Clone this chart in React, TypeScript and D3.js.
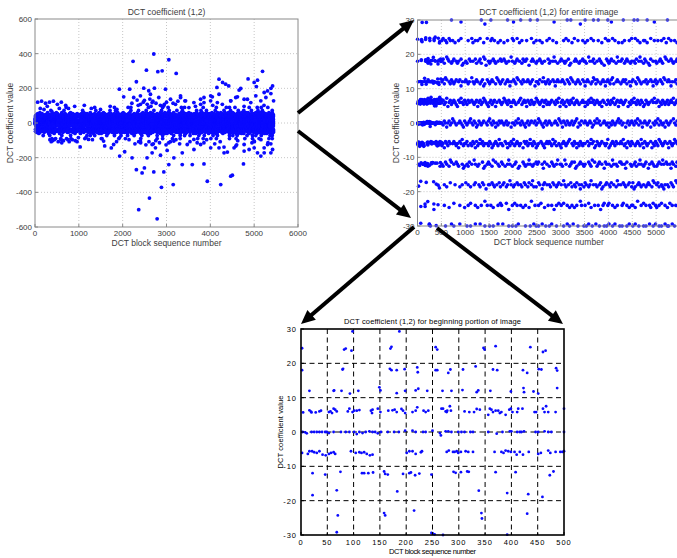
import React, { useEffect, useRef } from 'react';
import * as d3 from 'd3';

// tick values
const fullXTicks = [0, 1000, 2000, 3000, 4000, 5000, 6000];
const fullYTicks = [-600, -400, -200, 0, 200, 400, 600];
const wholeXTicks = [0, 500, 1000, 1500, 2000, 2500, 3000, 3500, 4000, 4500, 5000];
const wholeYTicks = [-30, -20, -10, 0, 10, 20, 30];
const startXTicks = [0, 50, 100, 150, 200, 250, 300, 350, 400, 450, 500];
const startYTicks = [-30, -20, -10, 0, 10, 20, 30];

// first 500 blocks: [block, value]
const startBlocks: [number, number][] = [
  [2, 24.4], [98, 29.3], [82, 24], [85, 24.3], [96, 23.7], [170, 24.3], [172, 24.8], [187, 29.3],
  [2, 18], [79, 18.2], [80, 18.4], [169, 18.4], [172, 18], [182, 18], [197, 18.3], [221, 18.8], [222, 17.4],
  [16, 12], [62, 12], [63, 12.1], [77, 12], [93, 11.2], [109, 12], [149, 13], [151, 12.1], [182, 11.3],
  [198, 12], [218, 12.1], [223, 12.6], [240, 12],
  [4, 5.7], [16, 6.3], [19, 5.9], [20, 5.7], [28, 5.7], [35, 6], [38, 6.2], [53, 5.8], [56, 6], [59, 5.5],
  [62, 6.8], [65, 6.5], [68, 6], [89, 6], [92, 6.8], [98, 5.8], [101, 6.2], [106, 6.2], [111, 6.4],
  [133, 6.2], [135, 5.5], [136, 6.5], [146, 6.8], [151, 5.8], [166, 6.2], [174, 6.3], [178, 6.5],
  [182, 5.8], [191, 6.7], [194, 6.2], [198, 5.5], [212, 5.8], [218, 6.2], [221, 7.2], [233, 6.2],
  [237, 5.8], [242, 6.2],
  [3, 0], [8, -0.1], [11, -0.4], [20, 0], [25, 0], [30, 0], [35, 0], [40, 0], [46, 0], [49, 0],
  [53, -0.3], [62, 0], [76, 0], [85, 0], [92, 0], [101, 0], [106, -0.6], [111, 0], [117, -0.3],
  [123, 0], [130, 0.2], [136, 0], [141, 0], [146, -0.4], [152, 0], [165, 0], [177, 0], [186, 0],
  [198, 0.4], [212, 0.4], [218, 0], [232, 0], [237, 0],
  [2, -6.1], [13, -6.4], [16, -5.6], [21, -5.6], [25, -5.9], [30, -6.1], [35, -5.6], [41, -6.6],
  [47, -6.8], [53, -6.4], [57, -6.1], [62, -5.9], [65, -6.4], [95, -5.6], [104, -6.1], [111, -5.9],
  [115, -6.1], [120, -5.9], [125, -6.4], [131, -6.8], [136, -6.6], [201, -6.1], [206, -5.6],
  [212, -5.6], [218, -6.4], [228, -5.9], [230, -5.6],
  [22, -12], [46, -12.4], [75, -11.6], [116, -12], [120, -12], [128, -12], [137, -11.8], [158, -11.5],
  [160, -12.2], [165, -12.4], [194, -12.2], [206, -12], [209, -11.8], [217, -12.6], [225, -12.1],
  [22, -18.4], [68, -17], [183, -17.3],
  [70, -24.3], [158, -23.6], [160, -24.3], [215, -22.9],
  [68, -29.2], [248, -29.4], [251, -29.7],
  [256, 24.7], [259, 24], [347, 24.5], [349, 24], [370, 25], [436, 24.7], [460, 23.3], [465, 23.7],
  [256, 18], [259, 18], [280, 17.2], [284, 18.2], [308, 18.2], [332, 19.1], [365, 18.2], [373, 18],
  [422, 18], [430, 17.2], [452, 18.3], [457, 18.2], [485, 18.6], [487, 17.9],
  [269, 12], [286, 12], [307, 12.2], [334, 11.6], [337, 12.1], [360, 12], [399, 11.8], [423, 12.8],
  [424, 11.6], [442, 11.8], [451, 11.2], [487, 12.8],
  [267, 6.8], [270, 6.8], [275, 6], [277, 5.8], [278, 6.2], [283, 7.5], [285, 6.2], [311, 6], [320, 5.8],
  [329, 5.8], [334, 6.7], [340, 6.5], [356, 5], [359, 6.8], [362, 6.5], [365, 5.8], [370, 6.2],
  [375, 6.2], [378, 5.5], [381, 5.8], [389, 5], [396, 6.5], [399, 6.8], [402, 5.8], [411, 5.8],
  [413, 6.8], [421, 6.8], [444, 5.8], [447, 5.8], [460, 6.8], [463, 5.8], [466, 7.5], [470, 5.8],
  [484, 5.8], [500, 6.8],
  [250, 0.4], [264, -0.3], [266, -1], [275, 0.2], [280, 0.2], [286, 0], [299, 0], [305, 0], [311, 0],
  [322, 0], [327, 0], [356, 0], [372, -0.5], [383, 0], [397, 0.2], [400, 0.2], [411, 0], [416, 0],
  [419, 0], [424, 0.2], [446, 0], [451, 0], [463, 0.2], [470, 0], [476, 0], [500, 0],
  [277, -5.8], [281, -5.4], [289, -5.8], [292, -5.8], [296, -5.6], [299, -6.1], [304, -5.8],
  [313, -5.6], [318, -5.8], [327, -5.8], [368, -5.8], [381, -5.8], [385, -6.1], [389, -5.4],
  [394, -5.6], [399, -5.8], [406, -5.8], [410, -6.6], [416, -5.8], [422, -6.6], [433, -5.8],
  [451, -6.4], [456, -6.1], [470, -5.4], [474, -6.1], [484, -5.8], [493, -5.8], [497, -5.8], [500, -5.6],
  [248, -12.4], [290, -11.6], [294, -11.9], [304, -11.7], [316, -11.5], [319, -11.6], [370, -11.7],
  [408, -11.7], [473, -12.6], [480, -11.5],
  [338, -17.1], [392, -17.8], [432, -18.1], [459, -18.9],
  [343, -23.6], [344, -25.2], [430, -23.8],
  [250, -29.5], [254, -29.8], [270, -30], [392, -29.9],
];

// blocks 500..5450, one character per 25 blocks, one row per quantisation level
// '.' = no block, a..e = level -1.2, -0.6, 0, +0.6, +1.2
const bandLevels = [30, 24, 18, 12, 6, 0, -6, -12, -18, -24, -30];
const bandMarks = [
  `........c. ......b... .......... ...c..a... .c........ .....c.... b.....c... ....c..... c......... ....b.....
   .....c..c. ......a... c......c.. .c.......c ..b....... ..c....... .c..c..... ..c.....b. .........c ........`,
  `cd.cb.dc.c .b..c.d... ..c..db.c. c.d..b..d. .cd.c..b.c ..b..c...d c..d.b.c.. .c...d.b.c ..c.b...c. d..c..b...
   ..c.d.c..b .d..c...c. b.c..d.c.. .c..b..d.c c..d.c..b. .b.c...c.d ..d.c.b..c c.b..d..c. .c..c.d.b. d.c..c.b`,
  `cdb.edc.bc d.cbc.dab. cb.dc.c.db .cdb.eda.c bc.dcb.c.d c.dcb.c.ec .bcd.c.bdc cd.a.cdc.b c.dcb.c..d bc.cec.b.c
   d.cbc.dab. .cdc.bc.dc cb.ec.cdb. c.dcb.a.dc bcd.c.bec. cd.bcdc.bc .cbd.cec.b dc.bad.c.c b.cdcb.ed. c.dcb.cd`,
  `cdbed.cbdc bcd.cdac.c dcbc.ecbcd c.bcdab.dc bcdc.bedcb cd.bcdcac. dcbed.cbdc .cdcbcd.ac cbd.cecbcd bc.dcacdc.
   cdcb.dcbed c.bcdcb.dc acdc.bcedb dc.bcdcacd cbdeb.cdc. bcdcdb.cac d.cbedcb.c cdbc.dcacd bc.dcbed.c dcac.cdb`,
  `cdbceacdbc dcbadcecbd cbdc.dcbcd acdbcedcba cdbcdac.dc bcedcbdcac dcb.cdebcd cadcbdcbce dcbcdacdbc bcd.cbdcea
   cdbcadcbdc ebcdcb.cdc acbdcecdbc dcbcadc.bd cbdcebcdac dcbcd.acbd cecbdcbdca bdcbc.dcec cdacbdcbcd bcdcebcd`,
  `cbdcacdbce dcb.cdcbad cbcdecbdca bdcbcd.cbd ecbdcacbdc dcbcdbc.ac cbdcecbdcb acdbcd.cdb cedcbacdbc dcb.cdcbed
   cadcbdcbcd bcdeacbd.c dcbcdcabdc ecdb.cdcbc acbdcbcdec dbc.acdbcd cbdcebdcac dcbcda.cbd cebdcbcadc bcd.ecbd`,
  `bcadcbdc.c dcbcadcebc cdb.cbdcad bcecdbc.cb dcabcdcbec cb.dcacbdc ebcdcbc.ad cdbcecbdca bc.dcbacdc dcbecdb.cb
   acdcbcde.c bdcacbdcbc c.dbcecdab dcbcd.cbce abcdcbdc.c dcebcadcbd c.bcdcbeca dcbc.dacbd cbedcbcd.c adcbcedc`,
  `cb.dc.bed. c.dcb..cab .cbd.c.ec. bc..dab.cd c.be.d.cb. dc.b.cec.b .cd.ab..dc b.cec.bc.d cd..cad.c. b.dcb.ce.c
   cb.ec..bcd .dab.cd.cb c..dcbe.d. bcd.c.adc. c.bec.cb.d dc.cad..cb .cdb.cec.b cd.ac.dcb. bcd.cec.dc .cadc.bd`,
  `..c.b..d.. .c...b.c.. d.c.b..cd. .cb.dc.a.c c.dcb.c.db .cd.bc.ec. bc.dc.cb.d c.bd.ceb.b .dc.acd.c. cb.dc.bcd.
   c.ecb.c.db .cbd.cac.b dc.bce.c.c b.cdab.cd. cbd.c.bec. c.dcb.cd.b dab.cdcb.c .bcdc.bed. cdb.cbac.c b.dcb.ed`,
  `..c...b... d....c...b ..c.d...c. b..c..e.c. .c.b...c.d c...d.a..c .d.c..c.b. c..b.e..c. .c.d..b..c ..c.a.c.d.
   c.d..c.b.c .b.c..ec.. c..d.b..c. .c.a.cd..c d..c.b.c.. .cd..c.b.c c.b.e..c.d .c..cb.d.c b.c.d..c.b .d.c..c.`,
  `...c....d. c....d.... .c..c...d. ..d...c... c..c...d.. .d....c..c ..c.d..... c...c..d.c .c..d..c.. c.d...c...
   ..c..d.c.. d...c....c .c.d..c..d ..c...c.c. d..c.d...c .c...c.d.. c.d..c...c .c..d..c.d ..c.c..d.c c..d.c..`,
];

// blocks 0..5450 beyond the +-30 band (only the top-left panel reaches them), same coding
const outerLevels = [36, 42, 48, 54, 60, 72, 90, -36, -42, -48, -54, -60, -72, -90];
const outerMarks = [
  `cc.ccc.ccc c.cccc.ccc cc.ccc.ccc c.cccc.cc. ccc.cc.ccc .cccc.cc.c cc.ccc.ccc c.cc.cccc. cc.cccc.cc .ccc.cc.cc ccc.ccc.c. c.cccc.ccc
   cc.cc.cccc .ccc.cccc. cc.cccc.cc c.ccc.cc.c ccc.cc.ccc .cc.cccc.c cc.ccc.ccc c.cccc.cc. cc.ccc.ccc .ccc.ccc`,
  `c.cc.cc.c. .ccc.c.cc. c.cc.c.cc. .cc.cc.c.c c.c.ccc..c .cc.c.cc.c cc..cc.c.c .c.ccc.c.c c.cc..cc.c .c.cc.c.cc cc.c.cc..c c.c.cc.cc.
   .cc.c.ccc. c.cc.c.c.c cc.c..cc.c .c.ccc.c.c c.cc.c..cc .cc.c.cc.c c.c.cc.c.c cc..ccc.c. .c.cc.c.cc c.cc.c.c`,
  `.c..c.c..c c..c.c...c c..c.c..c. .c.c..cc.. c..c.c.c.. .cc..c..c. c.c..c.c.c ..c.c..cc. c..cc.c..c .c..c.c.c. c.c..cc..c .c.c..c.c.
   c..c.cc.c. .c.c..c..c c.c.c..cc. .cc..c.c.c c..c.c..c. .c.cc..c.c c.c..c.c.. .c..cc.c.c c.c.c..c.c .c..c.cc`,
  `..c...c... .c.....c.. c...c..c.. .c..c...c. ..c..c.c.. c...c..c.. .c.c...c.c ..c..c...c .c...cc... c..c...c.c ..c.c..c.. .c...c..c.
   c..c..c... .c.c...c.c ..c..c.c.. c...c..c.c .c.c..c... c..c...c.c .c..c.c... c...c..c.c .c.c...c.. c..c.c..`,
  `....c..... .c.......c ....c..... ..c....... ....c..... c.......c. ..c....... .....c.... c.....c... ...c....c. .c...c.... ....c...c.
   .c....c... ...c.c.... c......c.. ..c...c... .c....c..c ...c..c... c....c..c. ..c.c..... .c...c..c. ...c..c.`,
  `.......... ....c..... ......c... .......... ...c...... .....c.... ........c. ...c...... .......c.. ....c..... .c......c. .....c....
   ..c......c ....c..... .......c.. .c....c... ....c..... ..c.....c. .....c.... c......c.. ...c...c.. ......c.`,
  `.......... .......... ........c. .......... .......... ....c..... .......... ..c....... .......c.. .......... ...c...... ......c...
   .c........ ......c... .......... ...c...... .....c.... .......c.. ..c....... .....c.... ......c... ..c.....`,
  `c.ccc.cccc cc.ccc.ccc c.ccc.cccc cc.cc.ccc. .cccc.cc.c ccc.ccc.cc c.cc.cccc. cc.ccc.c.c .ccc.cccc. cc.cc.ccc. ccc.c.cccc c.ccc.cc.c
   cc.cccc.cc .cc.ccc.cc ccc.cc.c.c c.cccc.cc. cc.c.ccc.c .ccc.cc.cc c.cc.cccc. ccc.ccc.cc .cc.cc.ccc cc.ccc.c`,
  `.cc.c.cc.c c.cc.c.cc. .cc.c.cc.c c.c.cc..cc .c.ccc.c.c cc.c.c.cc. c.cc..cc.c .cc.c.c.cc c..cc.c.cc .c.cc.cc.c cc.c..c.cc c.c.ccc.c.
   .cc.c.cc.c c.cc.c.c.c cc..c.cc.c .c.cc.c.cc c.c.ccc..c .cc.c.cc.c cc.c.c.cc. c.cc.c..cc .c.cc.cc.c c.c.c.cc`,
  `c.c..cc.c. .c.cc.c..c .c..c.c..c c.c..c..c. ..cc.c..c. c..c.c.c.. .c.c..cc.c c..c.c..c. .c.cc..c.c c.c..c.c.. .cc..c..cc c..c.c.c..
   .c.c..cc.c c.c..c.c.. .c..cc.c.c c.c.c..c.. .cc..c.c.c c..c.c..cc .c.c..c.c. c..cc.c..c .c.c.c..c. c.c..c.c`,
  `.c..c...c. ..c..c.c.. ..c..c...c c...c.c... .c..c...c. c.c...c..c ..c.c..c.. c...c..c.c .c.c...c.. ..c..c.c.c c...c..c.. .c.c..c..c
   ..c.c...c. c..c..c.c. .c...c..c. c.c..c...c .c..c.c... c..c...c.c .c.c..c... c...c.c..c .c..c..c.c ..c.c..c`,
  `...c...... ..c....c.. ..c....... ......c... .c........ ...c....c. c.....c... ..c....... ....c...c. c.....c... ..c..c.... ....c...c.
   c...c..... ..c....c.. ....c.c... c.......c. ..c..c.... .c.....c.. ...c.c..c. c....c.... ..c...c..c .c....c.`,
  `.......c.. ...c...... ....c..... ..c....... .......c.. c...c..... .....c.... ..c.....c. ....c..... c......c.. ...c...... .c....c...
   ......c... ..c...c... .c.......c ....c..... ..c...c... .......c.. c...c..... ...c....c. .c....c... ....c.c.`,
  `.......... .....c.... ...c...... .......... .....c.... .......... c......... ......c... ..c....... ......c... .......... .c....c...
   .....c.... ..c....... ........c. ...c...... c....c.... .......c.. ...c...... .c......c. ....c..... ...c..c.`,
];

// scattered blocks far outside the band (top-left panel): [block, value]
const outerBlocks: [number, number][] = [
  [60, 120], [150, 126], [240, 114], [330, 120], [420, 126], [510, 108], [600, 120], [700, 102],
  [120, 84], [205, 78], [280, 96], [385, 66], [555, 84], [765, 84], [905, 96], [1125, 102],
  [1285, 84], [1495, 78], [1715, 96], [1870, 78],
  [340, -96], [370, -108], [400, -102], [440, -96], [470, -90], [530, -108], [590, -96], [610, -114],
  [650, -102], [720, -90], [750, -96], [780, -108], [820, -90], [850, -96], [920, -102], [960, -108],
  [990, -84], [1030, -138], [1160, -84], [1310, -96], [1530, -90], [1590, -132], [1740, -144],
  [1860, -108], [1930, -84],
  [2125, 90], [2355, 102], [2645, 96], [2950, 108], [3340, 90], [3660, 96], [4055, 102], [4365, 90],
  [4770, 96], [5070, 90], [5225, 102], [2210, 114], [2470, 120], [2560, 108], [2690, 126], [2760, 114],
  [2860, 102], [3000, 120], [3150, 114], [3260, 126], [2330, 132], [2620, 138],
  [2145, -96], [2365, -108], [2755, -102], [3215, -96], [3535, -108], [3915, -96], [4225, -108],
  [4625, -102], [5005, -108], [5155, -96], [5315, -114], [2280, -120], [2410, -114], [2530, -126],
  [2600, -108], [2700, -120], [2840, -114], [2990, -126], [3090, -108], [3300, -120], [3700, -114],
  [4100, -120], [4600, -126], [4950, -114], [5380, -120],
  [3320, 157], [3435, 128], [3625, 118], [3778, 137], [3855, 118], [4007, 128], [4046, 151], [4198, 166],
  [4274, 108], [4465, 128], [4618, 151], [4771, 137], [4923, 118], [5038, 157], [5152, 128],
  [5267, 147], [5381, 170], [5443, 128],
  [3167, -104], [3473, -124], [3625, -95], [3854, -114], [4198, -143], [4312, -139], [4389, -168],
  [4580, -133], [4771, -124], [4885, -153], [4999, -104], [5076, -172], [5152, -191], [5228, -143],
  [5305, -124], [5381, -172],
  [2237, 356], [2710, 398], [3053, 365], [2542, 305], [2802, 296], [2901, 301], [3221, 286],
  [2313, 238], [1924, 195], [2160, 195], [2481, 201], [2595, 186], [2725, 201], [2977, 195],
  [2023, 151], [2252, 147], [2405, 157], [2496, 131], [2634, 166], [2824, 147], [3092, 137],
  [3321, 147], [3420, 128], [2405, 108], [2672, 118], [2939, 99], [3206, 108], [3511, 89],
  [3855, 147], [4008, 157], [3779, 108], [4160, 118], [4466, 128], [4580, 147], [4656, 190],
  [4847, 137], [4198, 253], [4150, 205], [4280, 234], [4350, 224], [4420, 214], [4694, 199],
  [4861, 254], [5000, 234], [5050, 210], [5191, 298], [5076, 247], [5229, 176], [5305, 185],
  [5382, 200], [5420, 214],
  [2786, -553], [2366, -500], [2611, -433], [2885, -371], [3153, -355], [3931, -336], [4237, -355],
  [4466, -307], [2443, -288], [2496, -259], [2313, -269], [2710, -282], [2939, -282], [3359, -240],
  [3588, -240], [3855, -236], [4756, -236], [2214, -201], [1931, -191], [2046, -166], [2557, -201],
  [2672, -172], [2748, -143], [2863, -186], [3015, -158], [3168, -201], [3359, -172], [3626, -153],
  [4008, -143], [4313, -172], [4542, -143], [4771, -162], [5000, -143], [5229, -172], [5420, -153],
  [3779, -124], [2405, -104], [2672, -124], [3053, -114], [1794, -124], [1565, -104], [1221, -95],
  [3053, -240], [4503, -301],
];

const offsetOf: Record<string, number> = { a: -1.2, b: -0.6, c: 0, d: 0.6, e: 1.2 };

function decodeRows(levels: number[], marks: string[], firstBlock: number) {
  const pts: [number, number][] = [];
  marks.forEach((row, r) => {
    row.replace(/\s/g, '').split('').forEach((ch, i) => {
      if (ch in offsetOf) pts.push([firstBlock + i * 25 + 12, levels[r] + offsetOf[ch]]);
    });
  });
  return pts;
}

const fmt = (v: number) => String(v);

function drawPanel(svg: any, p: any) {
  const x = d3.scaleLinear().domain(p.xDomain).range([p.left, p.right]);
  const y = d3.scaleLinear().domain(p.yDomain).range([p.bottom, p.top]);
  const g = svg.append('g').attr('font-family', p.font).attr('fill', p.textColor);

  const inside = (t: number, dom: number[]) => t > dom[0] && t < dom[1];

  // grid
  g.append('g').selectAll('line')
    .data(p.xTicks.filter((t: number) => inside(t, p.xDomain)))
    .enter().append('line')
    .attr('x1', (d: number) => x(d)).attr('x2', (d: number) => x(d))
    .attr('y1', p.top).attr('y2', p.bottom)
    .attr('stroke', p.gridColor).attr('stroke-width', p.gridWidth)
    .attr('stroke-dasharray', p.gridDash);
  g.append('g').selectAll('line')
    .data(p.yTicks.filter((t: number) => inside(t, p.yDomain)))
    .enter().append('line')
    .attr('y1', (d: number) => y(d)).attr('y2', (d: number) => y(d))
    .attr('x1', p.left).attr('x2', p.right)
    .attr('stroke', p.gridColor).attr('stroke-width', p.gridWidth)
    .attr('stroke-dasharray', p.gridDash);

  // points, MATLAB style: anything outside the limits is not drawn
  const pts = p.points.filter((d: number[]) =>
    d[0] >= p.xDomain[0] && d[0] <= p.xDomain[1] && d[1] >= p.yDomain[0] - 1e-9 && d[1] <= p.yDomain[1] + 1e-9);
  g.append('g').selectAll('circle')
    .data(pts).enter().append('circle')
    .attr('cx', (d: number[]) => x(d[0]))
    .attr('cy', (d: number[]) => y(d[1]))
    .attr('r', p.r)
    .attr('fill', '#0a0aff');

  // box
  g.append('rect')
    .attr('x', p.left).attr('y', p.top)
    .attr('width', p.right - p.left).attr('height', p.bottom - p.top)
    .attr('fill', 'none').attr('stroke', p.boxColor).attr('stroke-width', p.boxWidth);

  // tick marks (inward)
  g.append('g').selectAll('line')
    .data(p.xTicks).enter().append('line')
    .attr('x1', (d: number) => x(d)).attr('x2', (d: number) => x(d))
    .attr('y1', p.bottom).attr('y2', p.bottom - 3)
    .attr('stroke', p.boxColor).attr('stroke-width', 1);
  g.append('g').selectAll('line')
    .data(p.yTicks).enter().append('line')
    .attr('y1', (d: number) => y(d)).attr('y2', (d: number) => y(d))
    .attr('x1', p.left).attr('x2', p.left + 3)
    .attr('stroke', p.boxColor).attr('stroke-width', 1);

  // tick labels
  g.append('g').selectAll('text')
    .data(p.xTicks).enter().append('text')
    .attr('x', (d: number) => x(d)).attr('y', p.bottom + p.xTickGap)
    .attr('text-anchor', 'middle').attr('font-size', p.tickSize)
    .attr('letter-spacing', p.tickSpacing)
    .text(fmt);
  g.append('g').selectAll('text')
    .data(p.yTicks).enter().append('text')
    .attr('x', p.left - p.yTickGap).attr('y', (d: number) => y(d) + 3)
    .attr('text-anchor', 'end').attr('font-size', p.tickSize)
    .attr('letter-spacing', p.tickSpacing)
    .text(fmt);

  // titles
  const cx = (p.left + p.right) / 2;
  const title = g.append('text')
    .attr('x', cx).attr('y', p.titleY)
    .attr('text-anchor', 'middle').attr('font-size', p.labelSize)
    .text(p.title);
  const xl = g.append('text')
    .attr('x', cx).attr('y', p.xLabelY)
    .attr('text-anchor', 'middle').attr('font-size', p.labelSize)
    .text('DCT block sequence number');
  const yl = g.append('text')
    .attr('transform', `translate(${p.yLabelX},${(p.top + p.bottom) / 2}) rotate(-90)`)
    .attr('text-anchor', 'middle').attr('font-size', p.labelSize)
    .text('DCT coefficient value');
  if (p.stretch) {
    title.attr('textLength', p.stretch[0]).attr('lengthAdjust', 'spacing');
    xl.attr('textLength', p.stretch[1]).attr('lengthAdjust', 'spacing');
    yl.attr('textLength', p.stretch[2]).attr('lengthAdjust', 'spacing');
  }
}

function drawArrow(svg: any, x1: number, y1: number, x2: number, y2: number) {
  const dx = x2 - x1, dy = y2 - y1;
  const len = Math.sqrt(dx * dx + dy * dy);
  const ux = dx / len, uy = dy / len;
  const head = 14, half = 6.5;
  const bx = x2 - ux * head, by = y2 - uy * head;
  svg.append('line')
    .attr('x1', x1).attr('y1', y1).attr('x2', bx + ux).attr('y2', by + uy)
    .attr('stroke', '#000').attr('stroke-width', 4);
  svg.append('polygon')
    .attr('points', [[x2, y2], [bx - uy * half, by + ux * half], [bx + uy * half, by - ux * half]]
      .map(q => q.join(',')).join(' '))
    .attr('fill', '#000');
}

export default function App() {
  const ref = useRef<SVGSVGElement>(null);

  useEffect(() => {
    const svg = d3.select(ref.current);
    svg.selectAll('*').remove();

    const series = [...startBlocks, ...decodeRows(bandLevels, bandMarks, 500)];
    const everything = [...series, ...decodeRows(outerLevels, outerMarks, 0), ...outerBlocks];

    const helv = '"Liberation Sans", Arial, Helvetica, sans-serif';
    const grey = {
      font: helv, textColor: '#3c3c3c', gridColor: '#b8b8b8', gridWidth: 0.8, gridDash: '1,2',
      boxColor: '#8a8a8a', boxWidth: 1, tickSize: 8, labelSize: 8.5, tickSpacing: 0,
      xTickGap: 9, yTickGap: 3,
    };

    drawPanel(svg, {
      ...grey, r: 1.9,
      left: 35, right: 298, top: 19, bottom: 227,
      xDomain: [0, 6000], yDomain: [-600, 600],
      xTicks: fullXTicks, yTicks: fullYTicks,
      points: everything,
      title: 'DCT coefficient (1,2)', titleY: 15, xLabelY: 246, yLabelX: 13,
    });

    drawPanel(svg, {
      ...grey, r: 1.8,
      left: 417.5, right: 680, top: 20, bottom: 226,
      xDomain: [0, 5500], yDomain: [-30, 30],
      xTicks: wholeXTicks, yTicks: wholeYTicks,
      points: series,
      title: 'DCT coefficient (1,2) for entire image', titleY: 15, xLabelY: 245, yLabelX: 399,
    });

    drawPanel(svg, {
      font: helv, textColor: '#000', gridColor: '#000', gridWidth: 1, gridDash: '5,3.5',
      boxColor: '#000', boxWidth: 1.6, r: 1.4, tickSize: 7.5, labelSize: 7.5, tickSpacing: 1,
      xTickGap: 10, yTickGap: 4,
      left: 301, right: 564, top: 329, bottom: 535,
      xDomain: [0, 500], yDomain: [-30, 30],
      xTicks: startXTicks, yTicks: startYTicks,
      points: series.filter(d => d[0] <= 500),
      title: 'DCT coefficient (1,2) for beginning portion of image', titleY: 324, xLabelY: 554, yLabelX: 283,
      stretch: [177, 87, 73],
    });

    drawArrow(svg, 298, 113, 414, 20);
    drawArrow(svg, 298, 131, 411, 218);
    drawArrow(svg, 414, 227, 301, 324);
    drawArrow(svg, 437, 228, 563, 324);
  }, []);

  return (
    <svg ref={ref} width={677} height={558}
      style={{ position: 'absolute', left: 0, top: 0, background: '#fff' }} />
  );
}
